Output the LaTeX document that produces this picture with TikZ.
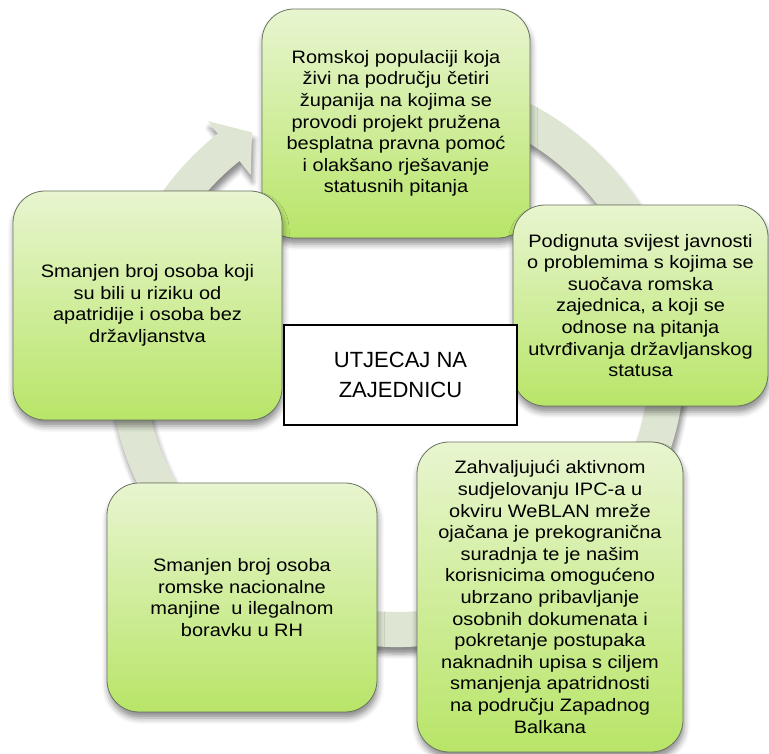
\documentclass[tikz,border=0pt]{standalone}
\usepackage{fontspec}
\setmainfont[FakeStretch=1.11]{Liberation Sans}
\newfontfamily\hubfont{Liberation Sans}
\usepackage{xcolor}
\definecolor{ringgreen}{RGB}{222,230,211}
\definecolor{boxtop}{RGB}{232,245,208}
\definecolor{boxbottom}{RGB}{184,229,104}
\definecolor{boxline}{RGB}{105,115,95}
\usepackage{tikz}
\usetikzlibrary{positioning,shadows.blur}
\tikzset{
  outcome/.style ={ font=\fontsize{18}{21.6}\selectfont, rectangle, rounded corners=32pt,
                    draw=boxline, line width=0.8pt, top color=boxtop, bottom color=boxbottom,
                    align=center, inner sep=4pt,
                    blur shadow={shadow xshift=1pt, shadow yshift=-6pt, shadow blur radius=6pt, shadow opacity=45} },
  hub/.style     ={ font=\hubfont\fontsize{22}{30}\selectfont, rectangle, draw=black, line width=1.3pt,
                    fill=white, align=center, inner sep=4pt },
%
  loopband/.style={ fill=ringgreen, draw=none,
                    blur shadow={shadow xshift=2pt, shadow yshift=-7pt, shadow blur radius=5pt, shadow opacity=45} }
}

\begin{document}
\begin{tikzpicture}[x=1pt,y=1pt]
  \useasboundingbox (0,0) rectangle (769,753);
  % ring arrow behind the boxes
  \coordinate (ringc) at (397,394);
  \fill[loopband] ([shift={(110:288pt)}]ringc) arc[start angle=110, end angle=-231.5, radius=288pt]
      -- ([shift={(128.5:304pt)}]ringc) -- ([shift={(122.6:269pt)}]ringc) -- ([shift={(128.5:235pt)}]ringc)
      -- ([shift={(128.5:253pt)}]ringc) arc[start angle=-231.5, end angle=110, radius=253pt] -- cycle;
  % outcomes
  \node[outcome, minimum width=268pt, minimum height=229pt] (roma) at (396,629.5)
      {Romskoj populaciji koja\\živi na području četiri\\županija na kojima se\\provodi projekt pružena\\besplatna pravna pomoć\\i olakšano rješavanje\\statusnih pitanja};
  \node[outcome, minimum width=255pt, minimum height=201pt] (awareness) at (640.5,447.5)
      {Podignuta svijest javnosti\\o problemima s kojima se\\suočava romska\\zajednica, a koji se\\odnose na pitanja\\utvrđivanja državljanskog\\statusa};
  \node[outcome, minimum width=266pt, minimum height=310pt] (weblan) at (550,156)
      {Zahvaljujući aktivnom\\sudjelovanju IPC-a u\\okviru WeBLAN mreže\\ojačana je prekogranična\\suradnja te je našim\\korisnicima omogućeno\\ubrzano pribavljanje\\osobnih dokumenata i\\pokretanje postupaka\\naknadnih upisa s ciljem\\smanjenja apatridnosti\\na području Zapadnog\\Balkana};
  \node[outcome, minimum width=270pt, minimum height=229pt] (illegal) at (242,155.5)
      {Smanjen broj osoba\\romske nacionalne\\manjine\ \ u ilegalnom\\boravku u RH};
  \node[outcome, minimum width=269pt, minimum height=229pt] (stateless) at (147.5,447.5)
      {Smanjen broj osoba koji\\su bili u riziku od\\apatridije i osoba bez\\državljanstva};
  % centre
  \node[hub, minimum width=233pt, minimum height=100pt] (impact) at (400.5,378)
      {UTJECAJ NA\\ZAJEDNICU};
\end{tikzpicture}
\end{document}
